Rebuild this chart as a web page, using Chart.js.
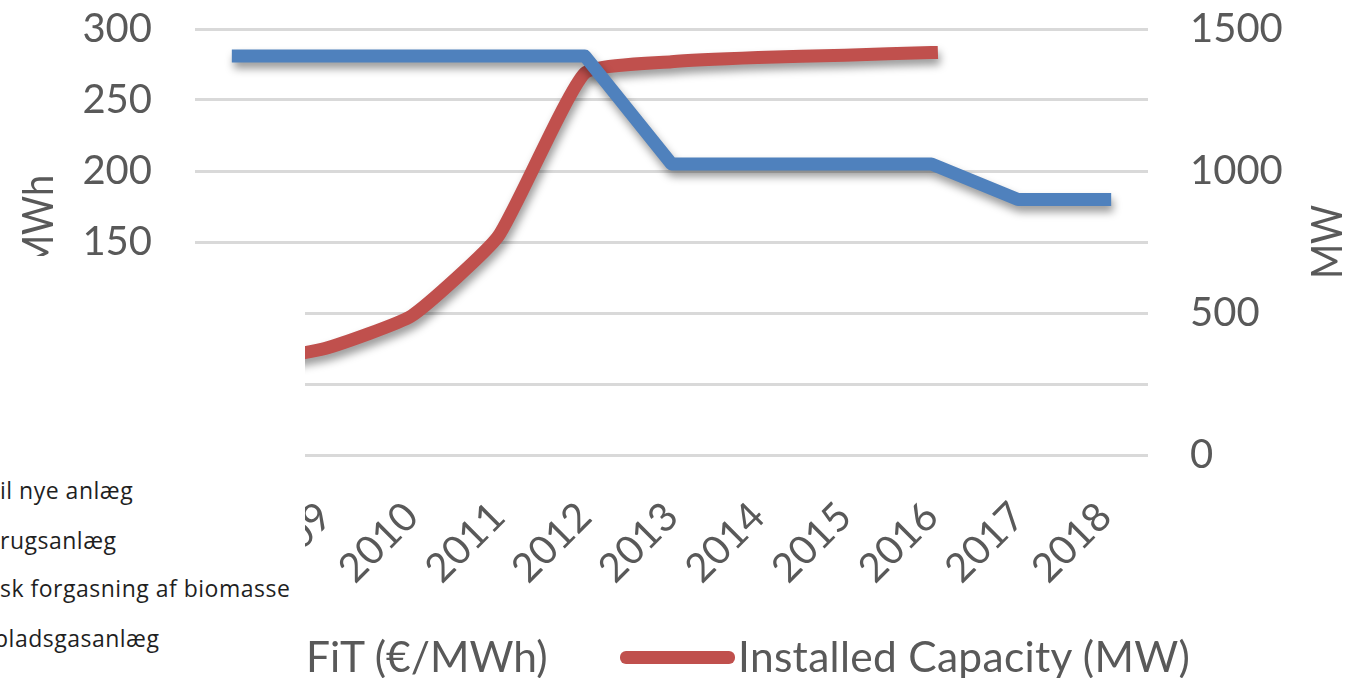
<!DOCTYPE html>
<html>
<head>
<meta charset="utf-8">
<script src="https://cdn.jsdelivr.net/npm/chart.js@4.4.1/dist/chart.umd.min.js"></script>
<style>
	html, body { margin: 0; padding: 0; background: #fff; overflow: hidden; }
	#wrap { position: absolute; left: 0; top: 0; width: 1355px; height: 678px; }
	.legend-line { position: absolute; height: 13px; width: 115px; border-radius: 6px; }
	.legend-text { position: absolute; font: 42.5px Lato, sans-serif; line-height: 42px; color: #595959; white-space: nowrap; }
	#mask { position: absolute; left: 0; top: 256px; width: 305px; height: 422px; background: #fff; overflow: hidden; }
	#mask div { position: absolute; font: 23px "Open Sans", sans-serif; letter-spacing: 0.5px; line-height: 26px; color: #1f1f1f; white-space: nowrap; }
</style>
</head>
<body>
<div id="wrap"><canvas id="myChart"></canvas></div>

<div class="legend-line" style="left:190px; top:651px; background:#4F81BD"></div>
<div class="legend-text" style="left:306px; top:635px">FiT (€/MWh)</div>
<div class="legend-line" style="left:620px; top:651px; background:#C0504D"></div>
<div class="legend-text" style="left:738px; top:635px; letter-spacing:0.3px">Installed Capacity (MW)</div>

<div id="mask">
	<div style="left:0; top:221px">il nye anlæg</div>
	<div style="left:0; top:271px">rugsanlæg</div>
	<div style="left:0; top:319px">sk forgasning af biomasse</div>
	<div style="left:-6px; top:369px">pladsgasanlæg</div>
</div>

<script>
const years = ['2008', '2009', '2010', '2011', '2012', '2013', '2014', '2015', '2016', '2017', '2018']
const fitValues = [281, 281, 281, 281, 281, 205, 205, 205, 205, 180, 180]
const capacityValues = [320, 375, 490, 770, 1345, 1385, 1400, 1408, 1417, null, null]
const fitAxis = { min: 0, max: 300, step: 50 }
const capacityAxis = { min: 0, max: 1500, step: 500 }

// drop shadow under the lines + the two axis titles (both read bottom to top)
const decor = {
	id: 'decor',
	beforeDatasetsDraw(chart) {
		const ctx = chart.ctx
		ctx.save()
		ctx.shadowColor = 'rgba(0,0,0,0.4)'
		ctx.shadowBlur = 8
		ctx.shadowOffsetX = 2
		ctx.shadowOffsetY = 6
	},
	afterDatasetsDraw(chart) {
		chart.ctx.restore()
	},
	afterDraw(chart) {
		const { ctx, chartArea } = chart
		const mid = (chartArea.top + chartArea.bottom) / 2
		ctx.save()
		ctx.font = '42px Lato'
		ctx.fillStyle = '#595959'
		ctx.textAlign = 'center'
		ctx.textBaseline = 'alphabetic'
		for (const [text, x] of [['€/MWh', 53], ['MW', 1342]]) {
			ctx.save()
			ctx.translate(x, mid)
			ctx.rotate(-Math.PI / 2)
			ctx.scale(0.9, 1)
			ctx.fillText(text, 0, 0)
			ctx.restore()
		}
		ctx.restore()
	}
}

const tickFont = { family: 'Lato', size: 40 }
const plain = v => String(v)

new Chart(document.getElementById('myChart'), {
	type: 'line',
	data: {
		labels: years,
		datasets: [
			{
				label: 'FiT (€/MWh)',
				data: fitValues,
				yAxisID: 'y',
				borderColor: '#4F81BD',
				borderWidth: 13,
				borderCapStyle: 'square',
				borderJoinStyle: 'round',
				tension: 0,
				pointRadius: 0
			},
			{
				label: 'Installed Capacity (MW)',
				data: capacityValues,
				yAxisID: 'y1',
				borderColor: '#C0504D',
				borderWidth: 13,
				borderCapStyle: 'square',
				borderJoinStyle: 'round',
				tension: 0.15,
				pointRadius: 0
			}
		]
	},
	options: {
		responsive: true,
		maintainAspectRatio: false,
		animation: false,
		layout: { padding: { top: 29, left: 0, right: 0, bottom: 0 } },
		plugins: { legend: { display: false }, tooltip: { enabled: false } },
		scales: {
			x: {
				offset: true,
				afterFit: s => { s.height = 223 },
				grid: { display: false, offset: true },
				border: { display: false },
				ticks: { font: tickFont, color: '#595959', maxRotation: 45, minRotation: 45, autoSkip: false, padding: 30 }
			},
			y: {
				position: 'left',
				min: fitAxis.min,
				max: fitAxis.max,
				afterFit: s => { s.width = 195; s.paddingTop = 20; s.paddingBottom = 20 },
				grid: { color: '#D9D9D9', lineWidth: 3, drawTicks: false },
				border: { display: false },
				ticks: { stepSize: fitAxis.step, font: tickFont, color: '#595959', padding: 43, callback: plain }
			},
			y1: {
				position: 'right',
				min: capacityAxis.min,
				max: capacityAxis.max,
				afterFit: s => { s.width = 207; s.paddingTop = 20; s.paddingBottom = 20 },
				grid: { display: false },
				border: { display: false },
				ticks: { stepSize: capacityAxis.step, font: tickFont, color: '#595959', padding: 34, callback: plain }
			}
		}
	},
	plugins: [decor]
})
</script>
</body>
</html>
